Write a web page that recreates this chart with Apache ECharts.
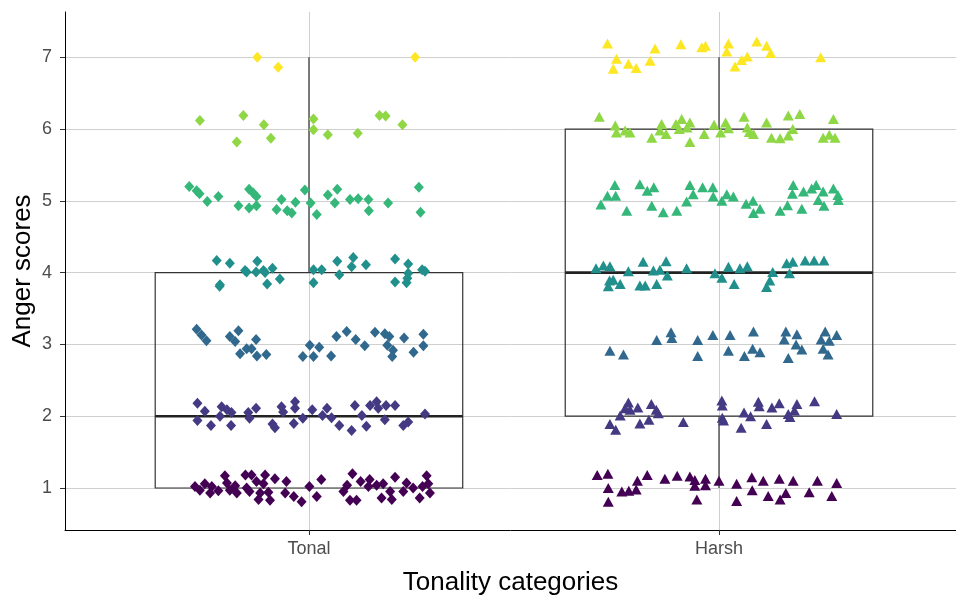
<!DOCTYPE html>
<html>
<head>
<meta charset="utf-8">
<script src="https://cdn.jsdelivr.net/npm/echarts@6/dist/echarts.min.js"></script>
<style>
  html, body { margin: 0; padding: 0; background: #fff; }
  #chart { width: 956px; height: 596px; }
</style>
</head>
<body>
<div id="chart"></div>
<script>
const categories = ['Tonal', 'Harsh']
const yTicks = [1, 2, 3, 4, 5, 6, 7]

// box stats: [min, q1, median, q3, max]
const tonalBox = [1, 1, 2, 4, 7]
const harshBox = [1, 2, 4, 6, 7]

// jittered points: [offset from category centre, plotted score]
const tonalPoints = [
  [-0.126, 7.0], [-0.075, 6.86], [0.259, 7.0],
  [-0.266, 6.12], [-0.160, 6.19], [-0.110, 6.06], [-0.176, 5.82], [-0.093, 5.87], [0.011, 6.14],
  [0.011, 5.99], [0.046, 5.92], [0.119, 5.94], [0.172, 6.19], [0.187, 6.18], [0.228, 6.06],
  [-0.292, 5.20], [-0.274, 5.14], [-0.267, 5.10], [-0.248, 4.99], [-0.221, 5.06], [-0.172, 4.93],
  [-0.146, 5.16], [-0.136, 5.11], [-0.128, 5.06], [-0.146, 4.90], [-0.128, 4.93], [-0.079, 4.88],
  [-0.067, 5.02], [-0.053, 4.86], [-0.042, 4.83], [-0.033, 4.98], [-0.010, 5.15], [0.004, 4.97],
  [0.019, 4.81], [0.046, 5.08], [0.069, 5.16], [0.063, 4.97], [0.100, 5.02], [0.120, 5.03],
  [0.145, 5.02], [0.146, 4.86], [0.193, 4.97], [0.268, 5.19], [0.272, 4.84],
  [-0.225, 4.17], [-0.193, 4.13], [-0.217, 3.83], [-0.218, 3.81], [-0.156, 4.03], [-0.152, 4.01],
  [-0.126, 4.16], [-0.129, 4.01], [-0.111, 4.03], [-0.107, 4.0], [-0.089, 4.06], [-0.102, 3.84],
  [-0.071, 3.91], [0.011, 4.04], [0.031, 4.04], [0.011, 3.86], [0.069, 4.16], [0.074, 3.97],
  [0.108, 4.21], [0.104, 4.08], [0.139, 4.11], [0.210, 4.19], [0.242, 4.12], [0.242, 3.99],
  [0.240, 3.92], [0.238, 3.86], [0.210, 3.87], [0.276, 4.04], [0.283, 4.02],
  [-0.274, 3.21], [-0.262, 3.13], [-0.250, 3.05], [-0.193, 3.11], [-0.172, 3.19], [-0.180, 3.04],
  [-0.168, 2.87], [-0.152, 2.94], [-0.129, 3.07], [-0.140, 2.94], [-0.127, 2.84], [-0.104, 2.86],
  [-0.015, 2.83], [0.002, 2.99], [0.025, 2.96], [0.011, 2.83], [0.054, 2.84], [0.067, 3.11],
  [0.092, 3.18], [0.114, 3.07], [0.136, 2.98], [0.161, 3.17], [0.185, 3.15], [0.196, 3.11],
  [0.191, 2.99], [0.205, 2.92], [0.203, 2.83], [0.232, 3.09], [0.255, 2.89], [0.279, 3.14], [0.279, 2.98],
  [-0.272, 2.18], [-0.254, 2.07], [-0.272, 1.94], [-0.239, 1.87], [-0.213, 2.13], [-0.200, 2.09],
  [-0.217, 2.0], [-0.189, 2.05], [-0.190, 1.87], [-0.148, 2.05], [-0.145, 1.97], [-0.129, 2.11],
  [-0.089, 1.89], [-0.083, 1.84], [-0.067, 2.13], [-0.063, 2.06], [-0.034, 2.20], [-0.034, 2.11],
  [-0.037, 1.90], [-0.015, 1.97], [0.008, 2.09], [0.033, 2.01], [0.044, 2.11], [0.055, 1.98],
  [0.074, 1.87], [0.104, 1.80], [0.112, 2.15], [0.129, 2.01], [0.140, 1.86], [0.149, 2.15],
  [0.165, 2.20], [0.169, 2.11], [0.188, 2.15], [0.185, 1.95], [0.210, 2.15], [0.230, 1.87],
  [0.242, 1.92], [0.283, 2.03],
  [-0.278, 1.02], [-0.254, 1.06], [-0.266, 0.97], [-0.241, 0.93], [-0.237, 1.02], [-0.221, 0.96],
  [-0.205, 1.17], [-0.200, 1.07], [-0.193, 0.97], [-0.180, 1.03], [-0.176, 0.93], [-0.155, 1.18],
  [-0.152, 1.0], [-0.145, 0.95], [-0.140, 1.18], [-0.128, 1.09], [-0.107, 1.18], [-0.111, 1.06],
  [-0.119, 0.93], [-0.123, 0.84], [-0.099, 0.94], [-0.095, 0.83], [-0.083, 1.13], [-0.055, 1.09],
  [-0.058, 0.93], [-0.037, 0.88], [-0.018, 0.81], [0.001, 1.02], [0.019, 0.88], [0.030, 1.12],
  [0.093, 1.04], [0.106, 1.20], [0.084, 0.95], [0.100, 0.83], [0.116, 0.83], [0.126, 1.09],
  [0.148, 1.12], [0.145, 1.02], [0.165, 1.04], [0.181, 1.06], [0.177, 0.86], [0.198, 0.95],
  [0.202, 0.84], [0.210, 1.15], [0.230, 0.95], [0.238, 1.07], [0.254, 1.0], [0.270, 0.86],
  [0.277, 1.02], [0.287, 1.17], [0.291, 1.06], [0.295, 0.93]
]

const harshPoints = [
  [-0.272, 7.19], [-0.250, 6.98], [-0.258, 6.84], [-0.221, 6.91], [-0.202, 6.85], [-0.168, 6.95],
  [-0.156, 7.12], [-0.093, 7.18], [-0.042, 7.14], [-0.033, 7.16], [0.023, 7.19], [0.019, 7.08],
  [0.039, 6.87], [0.055, 6.96], [0.069, 7.01], [0.092, 7.22], [0.116, 7.16], [0.126, 7.06], [0.248, 7.0],
  [-0.292, 6.17], [-0.253, 6.05], [-0.250, 5.95], [-0.229, 5.98], [-0.217, 5.95], [-0.164, 5.88],
  [-0.140, 6.07], [-0.144, 5.98], [-0.129, 5.93], [-0.105, 6.07], [-0.091, 6.14], [-0.097, 6.0],
  [-0.071, 6.09], [-0.078, 6.02], [-0.071, 5.82], [-0.036, 5.93], [-0.012, 6.06], [0.004, 5.95],
  [0.016, 6.09], [0.023, 6.01], [0.061, 6.17], [0.069, 6.02], [0.074, 5.96], [0.084, 5.93],
  [0.116, 6.09], [0.128, 5.88], [0.149, 5.87], [0.169, 5.91], [0.180, 6.0], [0.169, 6.19],
  [0.197, 6.21], [0.254, 5.88], [0.269, 5.92], [0.283, 5.88], [0.279, 6.14],
  [-0.254, 5.22], [-0.272, 5.07], [-0.252, 5.07], [-0.288, 4.95], [-0.225, 4.86], [-0.193, 5.23],
  [-0.175, 5.14], [-0.159, 5.19], [-0.164, 4.93], [-0.136, 4.84], [-0.103, 4.86], [-0.079, 4.99],
  [-0.071, 5.22], [-0.063, 5.09], [-0.040, 5.19], [-0.015, 5.19], [-0.014, 5.06], [0.007, 5.0],
  [0.019, 5.09], [0.035, 5.06], [0.066, 4.96], [0.083, 5.0], [0.100, 4.89], [0.084, 4.83],
  [0.149, 4.86], [0.167, 4.94], [0.181, 5.22], [0.179, 5.10], [0.202, 4.89], [0.206, 5.13],
  [0.226, 5.17], [0.237, 5.22], [0.254, 5.13], [0.242, 5.01], [0.256, 4.93], [0.279, 5.17],
  [0.290, 5.08], [0.291, 5.01],
  [-0.300, 4.06], [-0.282, 4.10], [-0.266, 4.09], [-0.267, 3.89], [-0.258, 3.90], [-0.270, 3.81],
  [-0.241, 3.84], [-0.221, 4.02], [-0.185, 4.15], [-0.160, 4.03], [-0.193, 3.82], [-0.180, 3.82],
  [-0.152, 3.84], [-0.144, 4.04], [-0.129, 4.16], [-0.126, 3.96], [-0.079, 4.06], [-0.010, 3.99],
  [0.007, 3.93], [0.023, 4.08], [0.037, 3.84], [0.051, 4.06], [0.069, 4.09], [0.124, 3.89],
  [0.116, 3.80], [0.131, 4.01], [0.165, 4.13], [0.180, 4.15], [0.172, 3.99], [0.210, 4.17],
  [0.232, 4.17], [0.256, 4.17],
  [-0.266, 2.91], [-0.233, 2.86], [-0.152, 3.06], [-0.117, 3.17], [-0.115, 3.09], [-0.052, 3.06],
  [-0.052, 2.84], [-0.015, 3.13], [0.027, 3.13], [0.023, 2.91], [0.062, 2.84], [0.082, 2.94],
  [0.100, 2.89], [0.084, 3.18], [0.163, 3.18], [0.159, 3.07], [0.190, 3.14], [0.188, 3.0],
  [0.202, 2.93], [0.169, 2.81], [0.259, 3.18], [0.249, 3.07], [0.269, 3.05], [0.287, 3.13],
  [0.254, 2.94], [0.266, 2.86],
  [-0.266, 1.89], [-0.252, 1.81], [-0.241, 2.01], [-0.229, 2.11], [-0.221, 2.19], [-0.217, 2.09],
  [-0.198, 2.12], [-0.193, 1.90], [-0.171, 1.95], [-0.165, 2.17], [-0.153, 2.09], [-0.148, 2.04],
  [-0.087, 1.92], [0.007, 2.22], [0.008, 2.15], [0.008, 1.98], [0.011, 1.94], [0.054, 1.84],
  [0.061, 2.05], [0.077, 2.0], [0.096, 2.20], [0.098, 2.14], [0.116, 1.89], [0.129, 2.12],
  [0.147, 2.18], [0.169, 2.03], [0.173, 1.99], [0.184, 2.08], [0.190, 2.17], [0.233, 2.21], [0.287, 2.03],
  [-0.297, 1.18], [-0.271, 1.20], [-0.270, 1.0], [-0.270, 0.81], [-0.237, 0.95], [-0.220, 0.96],
  [-0.202, 0.98], [-0.199, 1.10], [-0.175, 1.18], [-0.132, 1.13], [-0.102, 1.17], [-0.071, 1.16],
  [-0.059, 1.11], [-0.059, 1.03], [-0.054, 0.84], [-0.033, 1.13], [-0.033, 1.04], [0.0, 1.10],
  [0.043, 1.06], [0.043, 0.82], [0.080, 1.15], [0.081, 0.97], [0.108, 1.10], [0.120, 0.89],
  [0.147, 1.13], [0.149, 0.84], [0.163, 0.93], [0.181, 1.10], [0.220, 0.94], [0.240, 1.10],
  [0.275, 0.89], [0.287, 1.07]
]

// viridis, one colour per score 1..7
const palette = ['#440154', '#443A83', '#31688E', '#21908C', '#35B779', '#8FD744', '#FDE725']

const chart = echarts.init(document.getElementById('chart'))

const toScatter = (points, centre) =>
  points.map(([dx, y]) => ({
    value: [centre + dx, y],
    itemStyle: { color: palette[Math.round(y) - 1], opacity: 1 },
  }))

const halfBox = 0.375
const font = 'Liberation Sans, Arial, sans-serif'

const option = {
  animation: false,
  grid: { left: 65, right: 0, top: 12, bottom: 66, outerBoundsMode: 'none' },
  xAxis: {
    type: 'value',
    min: 0.405,
    max: 2.578,
    name: 'Tonality categories',
    nameLocation: 'middle',
    nameGap: 40,
    nameMoveOverlap: false,
    nameTextStyle: { color: '#000', fontSize: 26, fontFamily: font },
    axisLine: { onZero: false, lineStyle: { color: '#000', width: 1 } },
    axisTick: { customValues: [1, 2], length: 5, lineStyle: { color: '#333' } },
    axisLabel: {
      customValues: [1, 2],
      formatter: (v) => categories[Math.round(v) - 1],
      color: '#4d4d4d',
      fontSize: 18,
      fontFamily: font,
      margin: 10,
    },
    splitLine: { show: true, lineStyle: { color: '#cfcfcf', width: 1 } },
  },
  yAxis: {
    type: 'value',
    min: 0.415,
    max: 7.63,
    name: 'Anger scores',
    nameLocation: 'middle',
    nameGap: 29,
    nameMoveOverlap: false,
    nameTextStyle: { color: '#000', fontSize: 26, fontFamily: font },
    axisLine: { show: true, onZero: false, lineStyle: { color: '#000', width: 1 } },
    axisTick: { show: true, customValues: yTicks, length: 5, lineStyle: { color: '#333' } },
    axisLabel: { customValues: yTicks, color: '#4d4d4d', fontSize: 18, fontFamily: font, margin: 13 },
    splitLine: { show: true, lineStyle: { color: '#cfcfcf', width: 1 } },
  },
  series: [
    {
      type: 'custom',
      z: 1,
      data: [[1, ...tonalBox], [2, ...harshBox]],
      encode: { x: 0, y: [1, 2, 3, 4, 5] },
      renderItem: (params, api) => {
        const x = api.value(0)
        const mn = api.value(1), q1 = api.value(2), md = api.value(3), q3 = api.value(4), mx = api.value(5)
        const tl = api.coord([x - halfBox, q3])
        const br = api.coord([x + halfBox, q1])
        const c = (v) => api.coord([x, v])
        const stroke = { stroke: '#333', lineWidth: 1.2, fill: null }
        const children = [
          { type: 'line', shape: { x1: c(q3)[0], y1: c(q3)[1], x2: c(mx)[0], y2: c(mx)[1] }, style: stroke },
          { type: 'line', shape: { x1: c(q1)[0], y1: c(q1)[1], x2: c(mn)[0], y2: c(mn)[1] }, style: stroke },
          { type: 'rect', shape: { x: tl[0], y: tl[1], width: br[0] - tl[0], height: br[1] - tl[1] }, style: stroke },
          { type: 'line', shape: { x1: tl[0], y1: c(md)[1], x2: br[0], y2: c(md)[1] }, style: { stroke: '#222', lineWidth: 2.6 } },
        ]
        return { type: 'group', children }
      },
    },
    {
      type: 'scatter',
      name: 'Tonal',
      z: 3,
      symbol: 'diamond',
      symbolSize: [10, 11],
      data: toScatter(tonalPoints, 1),
    },
    {
      type: 'scatter',
      name: 'Harsh',
      z: 3,
      symbol: 'triangle',
      symbolSize: [11, 10],
      data: toScatter(harshPoints, 2),
    },
  ],
}

chart.setOption(option)
</script>
</body>
</html>
